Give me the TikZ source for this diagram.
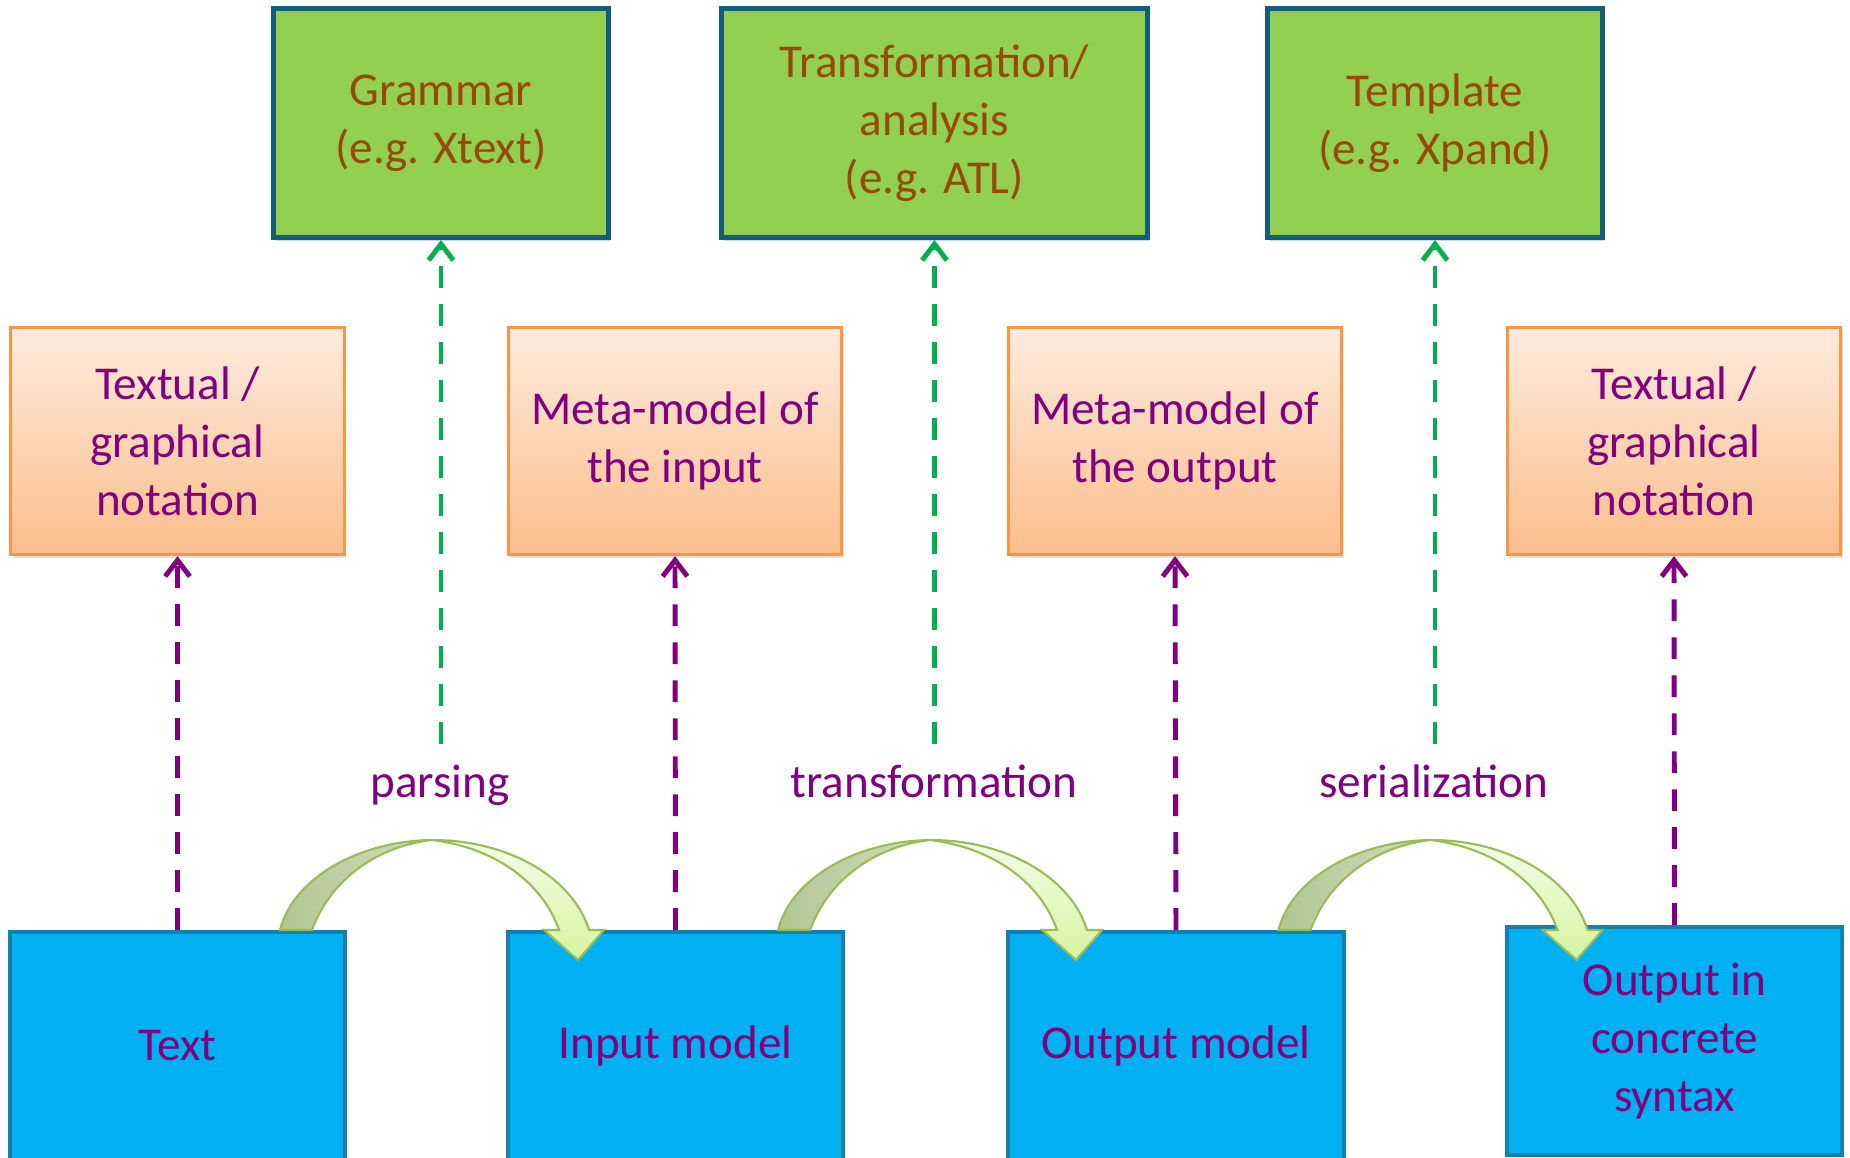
\documentclass[tikz,border=0pt]{standalone}
\usepackage{fontspec}
\setmainfont{Carlito}
\usetikzlibrary{arrows.meta,positioning,shadows}
\definecolor{toolfill}{HTML}{92D050}
\definecolor{tooledge}{HTML}{135C7C}
\definecolor{tooltext}{HTML}{984807}
\definecolor{metaedge}{HTML}{F79646}
\definecolor{metatop}{HTML}{FDEBDD}
\definecolor{metabot}{HTML}{FBBE8C}
\definecolor{datafill}{HTML}{00B0F0}
\definecolor{dataedge}{HTML}{1280AB}
\definecolor{purp}{HTML}{800080}
\definecolor{dashgreen}{HTML}{00B050}
\definecolor{arrowedge}{HTML}{9BBB59}
\definecolor{backleft}{HTML}{B2C693}
\definecolor{backright}{HTML}{D0DDBB}
\definecolor{frontpale}{HTML}{F5FDEA}
\definecolor{frontgreen}{HTML}{D5F49E}

\begin{document}
\begin{tikzpicture}[x=0.01cm,y=-0.01cm,align=center,
    font=\fontsize{13.4}{16.5}\selectfont,
    toolbox/.style={draw=tooledge,line width=1.4pt,fill=toolfill,text=tooltext,
      minimum width=3.34cm,minimum height=2.29cm,
      drop shadow={shadow xshift=0.6pt,shadow yshift=-1pt,opacity=0.35}},
    metabox/.style={draw=metaedge,line width=0.9pt,top color=metatop,bottom color=metabot,
      text=purp,minimum width=3.33cm,minimum height=2.27cm,
      drop shadow={shadow xshift=0.6pt,shadow yshift=-1pt,opacity=0.25}},
    databox/.style={draw=dataedge,line width=1.1pt,fill=datafill,text=purp,
      minimum width=3.35cm,minimum height=2.28cm},
    lbl/.style={text=purp,anchor=base},
    metadash/.style={draw=purp,line width=1.4pt,dash pattern=on 6.2pt off 4.6pt,
      -{Straight Barb[length=4.6pt,width=7pt]}},
    tooldash/.style={draw=dashgreen,line width=1.4pt,dash pattern=on 6.2pt off 4.6pt,
      -{Straight Barb[length=4.6pt,width=7pt]}}]
  \useasboundingbox (0,0) rectangle (1850,1158);

  % tools
  \node[toolbox] (tool_1) at (441,123) {Grammar\\(e.g. Xtext)};
  \node[toolbox,minimum width=4.25cm] (tool_2) at (934.5,123) {Transformation/\\analysis\\(e.g. ATL)};
  \node[toolbox] (tool_3) at (1435,123) {Template\\(e.g. Xpand)};

  % meta-models and notations
  \node[metabox] (meta_1) at (177.5,441) {Textual /\\graphical\\notation};
  \node[metabox] (meta_2) at (675,441) {Meta-model of\\the input};
  \node[metabox] (meta_3) at (1175,441) {Meta-model of\\the output};
  \node[metabox] (meta_4) at (1674,441) {Textual /\\graphical\\notation};

  % data
  \node[databox] (data_1) at (177.5,1046) {Text};
  \node[databox] (data_2) at (675.5,1046) {Input model};
  \node[databox] (data_3) at (1176,1046) {Output model};
  \node[databox] (data_4) at (1674.5,1041) {Output in\\concrete\\syntax};

  % step labels
  \node[lbl] (lbl_1) at (440,798) {parsing};
  \node[lbl] (lbl_2) at (934,798) {transformation};
  \node[lbl] (lbl_3) at (1434,798) {serialization};
  \coordinate (end_1) at (441,744);
  \coordinate (end_2) at (934.5,744);
  \coordinate (end_3) at (1435,744);

  \foreach \i in {1,2,3,4}
    \draw[metadash] (data_\i.north) -- (meta_\i.south);
  \foreach \i in {1,2,3}
    \draw[tooldash] (end_\i) -- (tool_\i.south);

  % curved arrows between the data boxes
  \foreach \i in {1,2,3}{
    \begin{scope}[shift={(data_\i.north east)}]
      \path[draw=arrowedge,line width=0.6pt,left color=backleft,right color=backright]
        (-67,0) .. controls (-54,-52) and (12,-89) .. (85,-90)
        .. controls (32,-84) and (-16,-52) .. (-35,0) -- cycle;
      \path[draw=arrowedge,line width=0.6pt,top color=frontpale,bottom color=frontgreen]
        (85,-90) .. controls (162,-90) and (226,-52) .. (242,0)
        -- (257,0) -- (231,30) -- (197,0) -- (212,0)
        .. controls (196,-46) and (150,-82) .. (85,-90) -- cycle;
    \end{scope}
  }
\end{tikzpicture}
\end{document}
